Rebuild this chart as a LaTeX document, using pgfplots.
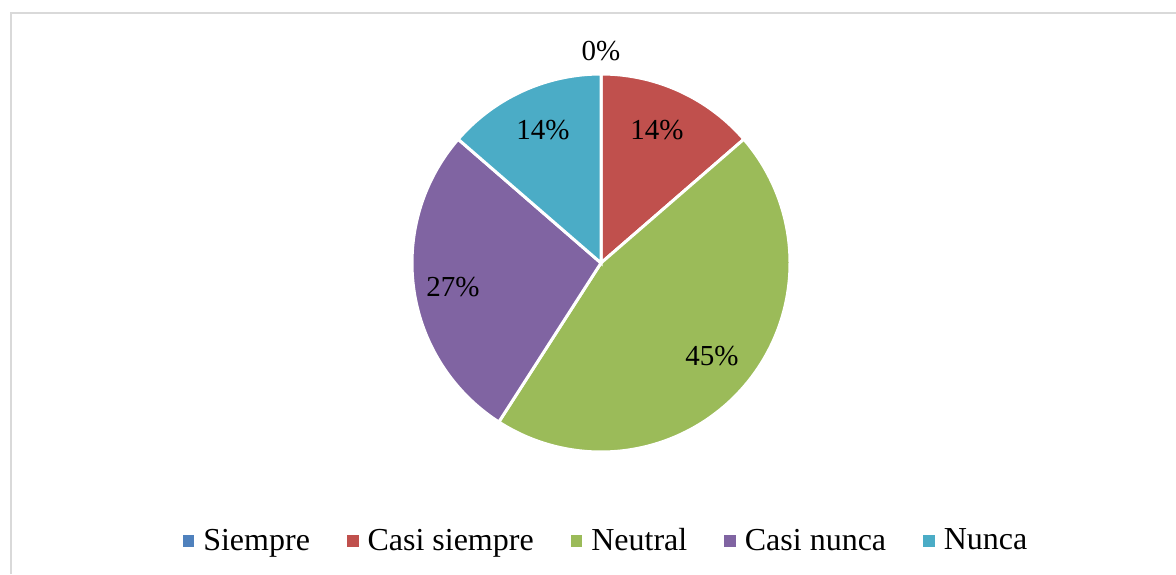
\documentclass[border=0pt]{standalone}
\usepackage{pgfplots}
\pgfplotsset{compat=1.18}
\usepackage{fontspec}
\setmainfont{Liberation Serif}
\definecolor{cSiempre}{HTML}{4F81BD}
\definecolor{cCasiSiempre}{HTML}{C0504D}
\definecolor{cNeutral}{HTML}{9BBB59}
\definecolor{cCasiNunca}{HTML}{8064A2}
\definecolor{cNunca}{HTML}{4BACC6}
\begin{document}
\begin{tikzpicture}
\begin{axis}[
  scale only axis, width=588pt, height=287pt,
  xmin=0, xmax=1176, ymin=-574, ymax=0,
  hide axis, clip=false,
  legend columns=5,
  legend image code/.code={\fill[#1,draw=none] (0pt,-2.9pt) rectangle (5.8pt,2.9pt);\path[draw=none,fill=none] (0pt,0pt) rectangle (8.3pt,0.1pt);},
  legend style={draw=none, fill=none, at={(axis cs:607,-541)}, anchor=center,
    font=\fontsize{16}{18}\selectfont,
    /tikz/every even column/.append style={column sep=16.5pt},
    nodes={inner sep=2pt}},
]
% frame
\draw[color={rgb,255:red,217;green,217;blue,217}, line width=1pt] (axis cs:11,-574) -- (axis cs:11,-12.7) -- (axis cs:1176,-12.7);
% counts: Siempre 0, Casi siempre 3, Neutral 10, Casi nunca 6, Nunca 3 (of 22)
\addplot[forget plot, fill=cCasiSiempre, draw=white, line width=1.5pt, domain=90:40.909, samples=60, variable=\t]
  ({601+189*cos(\t)},{-263+189*sin(\t)}) -- (axis cs:601,-263) -- cycle;
\addplot[forget plot, fill=cNeutral, draw=white, line width=1.5pt, domain=40.909:-122.727, samples=150, variable=\t]
  ({601+189*cos(\t)},{-263+189*sin(\t)}) -- (axis cs:601,-263) -- cycle;
\addplot[forget plot, fill=cCasiNunca, draw=white, line width=1.5pt, domain=-122.727:-220.909, samples=100, variable=\t]
  ({601+189*cos(\t)},{-263+189*sin(\t)}) -- (axis cs:601,-263) -- cycle;
\addplot[forget plot, fill=cNunca, draw=white, line width=1.5pt, domain=-220.909:-270, samples=60, variable=\t]
  ({601+189*cos(\t)},{-263+189*sin(\t)}) -- (axis cs:601,-263) -- cycle;
\addlegendimage{cSiempre}\addlegendentry{Siempre}
\addlegendimage{cCasiSiempre}\addlegendentry{Casi siempre}
\addlegendimage{cNeutral}\addlegendentry{Neutral}
\addlegendimage{cCasiNunca}\addlegendentry{Casi nunca}
\addlegendimage{cNunca}\addlegendentry{Nunca}
\begin{scope}[every node/.style={font=\fontsize{14.5}{17}\selectfont, inner sep=0pt}]
\node at (axis cs:601,-51) {0\%};
\node at (axis cs:657,-130) {14\%};
\node at (axis cs:712,-356) {45\%};
\node at (axis cs:453,-287) {27\%};
\node at (axis cs:543,-130) {14\%};
\end{scope}
\coordinate (bl) at (rel axis cs:0,0);
\coordinate (tr) at (rel axis cs:1,1);
\end{axis}
\pgfresetboundingbox
\path (bl) rectangle (tr);
\end{tikzpicture}
\end{document}
